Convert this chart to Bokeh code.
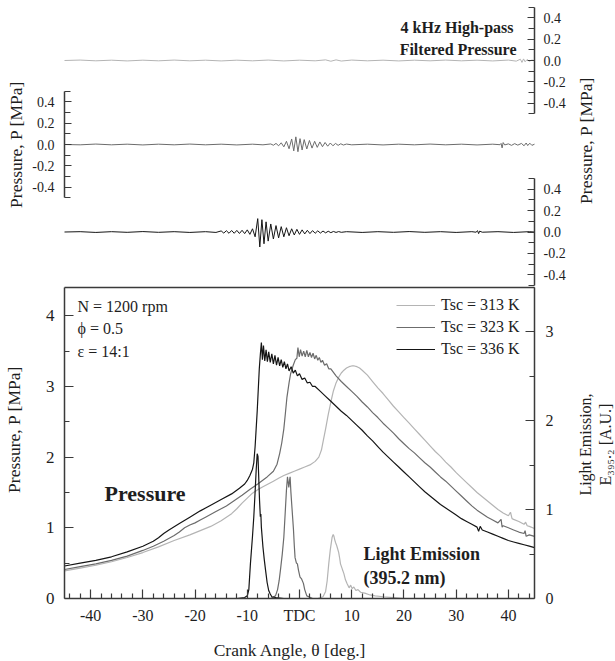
import math
from bokeh.plotting import figure
from bokeh.models import Range1d, LinearAxis, FixedTicker, PrintfTickFormatter, Label
from bokeh.embed import file_html
from bokeh.resources import INLINE

# ---------------- data ----------------
temps = ["313 K", "323 K", "336 K"]

# in-cylinder pressure [MPa] vs crank angle [deg]
pres_313 = [(-45, 0.39), (-42, 0.43), (-39, 0.47), (-36, 0.52), (-33, 0.58), (-30, 0.65), (-27, 0.73),
            (-24, 0.82), (-21, 0.90), (-19, 0.96), (-17, 1.02), (-15, 1.10), (-13, 1.20), (-12, 1.27),
            (-11, 1.35), (-10, 1.42), (-9, 1.49), (-8, 1.54), (-7, 1.58), (-6, 1.62), (-5, 1.66),
            (-4, 1.70), (-3, 1.74), (-2, 1.77), (-1, 1.80), (0, 1.83), (1, 1.86), (2, 1.89), (3, 1.94),
            (3.7, 2.00), (4.2, 2.10), (4.6, 2.25), (5.0, 2.40), (5.5, 2.60), (6.0, 2.78), (6.5, 2.94),
            (7.0, 3.05), (7.5, 3.13), (8.0, 3.19), (8.5, 3.23), (9.0, 3.26), (9.5, 3.28), (10.0, 3.29),
            (10.5, 3.29), (11, 3.28), (11.5, 3.26), (12, 3.23), (13, 3.16), (14, 3.07), (15, 2.98),
            (16, 2.90), (17, 2.81), (18, 2.72), (19, 2.64), (20, 2.56), (21, 2.48), (22, 2.40),
            (23, 2.32), (24, 2.24), (25, 2.16), (26, 2.08), (27, 2.01), (28, 1.93), (29, 1.86),
            (30, 1.78), (31, 1.71), (32, 1.64), (33, 1.57), (34, 1.50), (35, 1.44), (36, 1.38),
            (37, 1.32), (38, 1.26), (39, 1.21), (40, 1.17), (40.4, 1.22), (40.7, 1.13), (41, 1.12),
            (42, 1.09), (43, 1.05), (43.3, 1.08), (43.6, 1.03), (44, 1.02), (45, 0.99)]

pres_323 = [(-45, 0.41), (-42, 0.45), (-39, 0.49), (-36, 0.54), (-33, 0.60), (-30, 0.68), (-28, 0.74),
            (-26, 0.81), (-24, 0.89), (-23, 0.94), (-22, 1.00), (-21, 1.04), (-20, 1.07), (-19, 1.11),
            (-18, 1.15), (-16, 1.23), (-14, 1.31), (-12.6, 1.38), (-11, 1.46), (-9.4, 1.55), (-8, 1.62),
            (-6.2, 1.72), (-5, 1.80), (-4.3, 1.90), (-3.8, 2.05), (-3.4, 2.20), (-3.0, 2.40),
            (-2.7, 2.62), (-2.4, 2.85), (-2.0, 3.05), (-1.7, 3.18), (-1.2, 3.30), (-0.8, 3.38),
            (-0.5, 3.40), (-0.3, 3.55), (-0.05, 3.42), (0.2, 3.52), (0.5, 3.43), (0.8, 3.50),
            (1.1, 3.42), (1.4, 3.51), (1.7, 3.42), (2.0, 3.48), (2.3, 3.41), (2.6, 3.47), (2.9, 3.39),
            (3.2, 3.44), (3.5, 3.37), (3.8, 3.41), (4.1, 3.34), (4.4, 3.37), (4.8, 3.30), (5.2, 3.32),
            (5.6, 3.25), (6.0, 3.25), (6.5, 3.20), (7.0, 3.15), (8, 3.07), (9, 3.00), (10, 2.93),
            (11, 2.86), (12, 2.78), (13, 2.71), (14, 2.63), (15, 2.56), (16, 2.48), (17, 2.41),
            (18, 2.34), (19, 2.26), (20, 2.19), (21, 2.12), (22, 2.06), (23, 1.99), (24, 1.92),
            (25, 1.86), (26, 1.79), (27, 1.72), (28, 1.66), (29, 1.59), (30, 1.52), (31, 1.45),
            (32, 1.38), (33, 1.31), (34, 1.25), (35, 1.20), (36, 1.15), (37, 1.11), (38, 1.07),
            (38.6, 1.12), (38.8, 1.01), (39, 1.03), (40, 1.00), (41, 0.97), (42, 0.94), (43, 0.92),
            (43.2, 0.96), (43.4, 0.88), (44, 0.90), (45, 0.88)]

pres_336 = [(-45, 0.46), (-42, 0.50), (-39, 0.54), (-36, 0.59), (-33, 0.66), (-30, 0.74), (-28, 0.81),
            (-27, 0.86), (-26, 0.92), (-25, 0.97), (-23, 1.06), (-21, 1.15), (-19, 1.24), (-17, 1.32),
            (-15, 1.40), (-13, 1.48), (-11.5, 1.56), (-10.5, 1.62), (-10, 1.67), (-9.5, 1.74),
            (-9, 1.83), (-8.75, 1.92), (-8.5, 2.15), (-8.3, 2.40), (-8.1, 2.65), (-7.9, 2.95),
            (-7.7, 3.25), (-7.5, 3.45), (-7.3, 3.62), (-7.1, 3.38), (-6.9, 3.58), (-6.65, 3.36),
            (-6.4, 3.52), (-6.15, 3.35), (-5.9, 3.49), (-5.6, 3.34), (-5.3, 3.46), (-5.0, 3.32),
            (-4.7, 3.44), (-4.4, 3.30), (-4.1, 3.41), (-3.8, 3.29), (-3.5, 3.38), (-3.2, 3.27),
            (-2.9, 3.35), (-2.6, 3.25), (-2.3, 3.32), (-2.0, 3.22), (-1.6, 3.28), (-1.2, 3.19),
            (-0.8, 3.23), (-0.4, 3.15), (0.0, 3.18), (0.5, 3.10), (1.0, 3.12), (1.5, 3.05),
            (2.0, 3.06), (2.5, 3.00), (3.0, 3.00), (4, 2.93), (5, 2.86), (6, 2.79), (7, 2.72),
            (8, 2.65), (9, 2.59), (10, 2.52), (11, 2.45), (12, 2.38), (13, 2.30), (14, 2.23),
            (15, 2.15), (16, 2.07), (17, 2.00), (18, 1.93), (19, 1.86), (20, 1.79), (21, 1.72),
            (22, 1.65), (23, 1.58), (24, 1.51), (25, 1.45), (26, 1.39), (27, 1.33), (28, 1.28),
            (29, 1.23), (30, 1.18), (31, 1.13), (32, 1.09), (33, 1.05), (34, 1.01), (34.3, 0.95),
            (34.6, 1.02), (35, 0.97), (36, 0.94), (37, 0.91), (38, 0.88), (39, 0.85), (40, 0.82),
            (41, 0.80), (42, 0.78), (43, 0.76), (44, 0.74), (45, 0.72)]

# light emission at 395.2 nm [A.U.]
emis_313 = [(3.5, 0.0), (4.5, 0.02), (5.0, 0.08), (5.3, 0.20), (5.6, 0.39), (5.9, 0.55), (6.25, 0.69),
            (6.45, 0.72), (6.6, 0.70), (6.75, 0.66), (6.9, 0.63), (7.1, 0.60), (7.3, 0.56), (7.5, 0.52),
            (7.7, 0.45), (7.85, 0.39), (8.2, 0.33), (8.5, 0.28), (8.8, 0.21), (9.1, 0.17), (9.5, 0.12),
            (9.8, 0.15), (10.1, 0.11), (10.4, 0.13), (10.8, 0.09), (11.2, 0.10), (11.7, 0.07),
            (12.5, 0.06), (13.5, 0.04), (14.5, 0.03), (16, 0.02), (18, 0.01), (20, 0.0)]

emis_323 = [(-5.5, 0.0), (-4.6, 0.03), (-4.2, 0.10), (-3.9, 0.20), (-3.65, 0.32), (-3.3, 0.50),
            (-3.0, 0.69), (-2.75, 0.95), (-2.5, 1.22), (-2.3, 1.37), (-2.15, 1.30), (-2.05, 1.25),
            (-1.9, 1.33), (-1.8, 1.37), (-1.65, 1.20), (-1.5, 1.07), (-1.3, 0.90), (-1.15, 0.77),
            (-1.0, 0.60), (-0.85, 0.46), (-0.6, 0.40), (-0.4, 0.39), (-0.2, 0.32), (0.1, 0.24),
            (0.4, 0.22), (0.75, 0.17), (1.0, 0.10), (1.4, 0.03), (2.5, 0.0)]

emis_336 = [(-12, 0.0), (-10.5, 0.01), (-10.0, 0.03), (-9.7, 0.10), (-9.4, 0.39), (-9.0, 0.70),
            (-8.75, 0.92), (-8.5, 1.20), (-8.3, 1.44), (-8.1, 1.63), (-7.95, 1.60), (-7.8, 1.35),
            (-7.65, 1.10), (-7.5, 0.92), (-7.4, 0.95), (-7.3, 0.80), (-7.0, 0.58), (-6.75, 0.44),
            (-6.5, 0.32), (-6.2, 0.18), (-5.9, 0.09), (-5.6, 0.05), (-5.3, 0.02), (-4.5, 0.01), (-3, 0.0)]

# 4 kHz high-pass filtered pressure [MPa]
hp_313 = [(-45, 0.0), (-42, 0.004), (-39, -0.003), (-36, 0.003), (-33, -0.004), (-30, 0.003), (-27, -0.003),
          (-24, 0.004), (-21, -0.003), (-18, 0.003), (-15, -0.004), (-12, 0.003), (-9, -0.003), (-6, 0.004),
          (-3, -0.004), (0, 0.003), (3, -0.003), (5, 0.006), (6, -0.007), (7, 0.006), (8, -0.005),
          (10, 0.004), (13, -0.003), (16, 0.003), (19, -0.004), (22, 0.003), (25, -0.003), (28, 0.004),
          (31, -0.003), (34, 0.003), (37, -0.004), (40, 0.004), (41.5, -0.006), (42.3, 0.012),
          (42.6, -0.018), (42.9, 0.015), (43.2, -0.012), (43.6, 0.010), (44.0, -0.008), (44.5, 0.004),
          (45, 0.0)]

hp_323 = [(-45, 0.0), (-42, -0.003), (-39, 0.004), (-36, -0.003), (-33, 0.003), (-30, -0.004), (-27, 0.003),
          (-24, -0.003), (-21, 0.004), (-18, -0.003), (-15, 0.003), (-12, -0.004), (-9, 0.003), (-7, -0.003),
          (-5.5, 0.005), (-5.0, -0.007), (-4.5, 0.010), (-4.0, -0.012), (-3.5, 0.016), (-3.0, -0.022),
          (-2.5, 0.030), (-2.0, -0.040), (-1.5, 0.052), (-1.1, -0.060), (-0.7, 0.072), (-0.3, -0.068),
          (0.1, 0.055), (0.5, -0.052), (0.9, 0.046), (1.4, -0.042), (1.9, 0.038), (2.4, -0.034),
          (2.9, 0.030), (3.4, -0.027), (3.9, 0.024), (4.4, -0.021), (4.9, 0.019), (5.4, -0.016),
          (5.9, 0.014), (6.4, -0.012), (6.9, 0.010), (7.4, -0.008), (7.9, 0.007), (8.4, -0.005),
          (9.0, 0.004), (10, -0.003), (13, 0.003), (16, -0.004), (19, 0.003), (22, -0.003), (25, 0.004),
          (28, -0.003), (31, 0.003), (34, -0.004), (37, 0.003), (38.4, -0.002), (38.6, 0.010),
          (38.8, -0.032), (39.0, 0.018), (39.3, -0.004), (40, 0.006), (40.6, -0.008), (41.2, 0.008),
          (41.8, -0.006), (42.5, 0.010), (43.0, -0.012), (43.4, 0.014), (43.7, -0.010), (44.1, 0.012),
          (44.5, -0.008), (45, 0.003)]

hp_336 = [(-45, 0.0), (-42, 0.003), (-39, -0.004), (-36, 0.003), (-33, -0.003), (-30, 0.004), (-27, -0.003),
          (-24, 0.003), (-21, -0.004), (-18, 0.003), (-16, -0.004), (-15.0, 0.010), (-14.5, -0.010),
          (-14.0, 0.012), (-13.5, -0.012), (-13.0, 0.014), (-12.5, -0.012), (-12.0, 0.015), (-11.5, -0.014),
          (-11.0, 0.016), (-10.5, -0.015), (-10.0, 0.020), (-9.5, -0.022), (-9.0, 0.030), (-8.5, -0.045),
          (-8.0, 0.125), (-7.6, -0.140), (-7.2, 0.115), (-6.8, -0.110), (-6.4, 0.095), (-6.0, -0.085),
          (-5.5, 0.075), (-5.0, -0.065), (-4.5, 0.060), (-4.0, -0.055), (-3.5, 0.050), (-3.0, -0.045),
          (-2.5, 0.040), (-2.0, -0.035), (-1.5, 0.030), (-1.0, -0.028), (-0.5, 0.025), (0.0, -0.022),
          (0.5, 0.020), (1.0, -0.018), (1.5, 0.016), (2.0, -0.015), (2.5, 0.013), (3.0, -0.012),
          (3.5, 0.011), (4.0, -0.010), (4.5, 0.009), (5.0, -0.008), (5.5, 0.007), (6.0, -0.006),
          (6.5, 0.005), (7.0, -0.004), (7.5, 0.004), (8.0, -0.003), (9, 0.003), (12, -0.004), (15, 0.003),
          (18, -0.003), (21, 0.004), (24, -0.003), (27, 0.003), (30, -0.004), (33, 0.003), (33.8, -0.002),
          (34.1, 0.012), (34.3, -0.015), (34.5, 0.008), (35, -0.002), (38, 0.003), (41, -0.004),
          (44, 0.003), (45, 0.0)]

pressure = {"313 K": pres_313, "323 K": pres_323, "336 K": pres_336}
emission = {"313 K": emis_313, "323 K": emis_323, "336 K": emis_336}
highpass = {"313 K": hp_313, "323 K": hp_323, "336 K": hp_336}

x_ticks = [-40, -30, -20, -10, 0, 10, 20, 30, 40]
x_tick_labels = ["-40", "-30", "-20", "-10", "TDC", "10", "20", "30", "40"]
x_minor = [-44, -42, -38, -36, -34, -32, -28, -26, -24, -22, -18, -16, -14, -12, -8, -6, -4, -2,
           2, 4, 6, 8, 12, 14, 16, 18, 22, 24, 26, 28, 32, 34, 36, 38, 42, 44]
p_ticks = [0, 1, 2, 3, 4]
p_minor = [0.5, 1.5, 2.5, 3.5]
e_ticks = [0, 1, 2, 3]
e_minor = [0.5, 1.5, 2.5, 3.5]
hp_ticks = [-0.4, -0.2, 0.0, 0.2, 0.4]
hp_minor = [-0.5, -0.3, -0.1, 0.1, 0.3, 0.5]

# ---------------- layout / style ----------------
FONT = "Liberation Serif"
AX = "#3a3a3a"
TXT = "#1e1e1e"
COL = {"313 K": "#b4b4b4", "323 K": "#6c6c6c", "336 K": "#151515"}

W, H = 615, 661
FL, FR, FB, FTOP = 64, 534, 598, 287          # main panel box (pixels)
X0, X1 = -45, 45
P_TOP, E_TOP = 4.4, 3.5
ppd = (FR - FL) / (X1 - X0)
p_ppu = (FB - FTOP) / P_TOP
e_ppu = (FB - FTOP) / E_TOP


def zrange(zero_px, ppu):
    # canvas-wide range whose value 0 sits at pixel row zero_px
    start = -(H - zero_px) / ppu
    return Range1d(start, start + H / ppu)


def tx(xpx):
    return X0 + (xpx - FL) / ppd


def ty(ypx):
    return (FB - ypx) / p_ppu


# the plotting frame covers the whole canvas, every axis is pinned with fixed_location
p = figure(width=W, height=H, x_range=Range1d(tx(0), tx(W)), y_range=zrange(FB, p_ppu),
           output_backend="svg", toolbar_location=None, x_axis_location=None, y_axis_location=None,
           min_border=0, min_border_left=0, min_border_right=0, min_border_top=0, min_border_bottom=0)
p.extra_y_ranges = {"light": zrange(FB, e_ppu),
                    "hp313": zrange(60, 106.3),
                    "hp323": zrange(144, 106.3),
                    "hp336": zrange(231.5, 107)}
p.outline_line_color = None
p.background_fill_color = "white"
p.border_fill_color = "white"
p.grid.visible = False
p.xgrid.grid_line_color = None
p.ygrid.grid_line_color = None


def axis(side, loc, bounds, ticks, minor, size, tin, tmin, standoff, rng=None, overrides=None, fmt=None):
    kw = {}
    if rng is not None:
        kw["y_range_name"] = rng
    ax = LinearAxis(fixed_location=loc, bounds=bounds,
                    ticker=FixedTicker(ticks=ticks, minor_ticks=minor), **kw)
    if fmt:
        ax.formatter = PrintfTickFormatter(format=fmt)
    if overrides:
        ax.major_label_overrides = overrides
    ax.axis_line_color = AX
    ax.axis_line_width = 1.5
    ax.major_tick_line_color = AX
    ax.minor_tick_line_color = AX
    ax.major_tick_line_width = 1.2
    ax.minor_tick_line_width = 1.2
    ax.major_tick_in = tin
    ax.major_tick_out = 0
    ax.minor_tick_in = tmin
    ax.minor_tick_out = 0
    ax.major_label_text_font = FONT
    ax.major_label_text_font_size = size
    ax.major_label_text_color = TXT
    ax.major_label_standoff = standoff
    p.add_layout(ax, side)
    return ax


# main panel box
axis("below", 0, (X0, X1), x_ticks, x_minor, "16px", 9, 5, 8,
     overrides=dict(zip(x_ticks, x_tick_labels)))
axis("left", X0, (0, P_TOP), p_ticks, p_minor, "17px", 9, 5, 10, fmt="%d")
axis("right", X1, (0, E_TOP), e_ticks, e_minor, "16px", 9, 5, 11, rng="light", fmt="%d")
axis("above", P_TOP, (X0, X1), [], [], "16px", 0, 0, 0)
# high-pass panels
axis("right", X1, (-0.5, 0.5), hp_ticks, hp_minor, "14px", 7, 6, 9, rng="hp313", fmt="%.1f")
axis("left", X0, (-0.5, 0.5), hp_ticks, hp_minor, "14px", 7, 6, 10, rng="hp323", fmt="%.1f")
axis("right", X1, (-0.5, 0.5), hp_ticks, hp_minor, "14px", 7, 6, 9, rng="hp336", fmt="%.1f")

# ---------------- curves ----------------
for t in temps:
    xs = [a for a, _ in pressure[t]]
    ys = [b for _, b in pressure[t]]
    p.line(xs, ys, line_color=COL[t], line_width=1.2, legend_label=f"Tsc = {t}")
for t in temps:
    xs = [a for a, _ in emission[t]]
    ys = [b for _, b in emission[t]]
    p.line(xs, ys, line_color=COL[t], line_width=1.2, y_range_name="light")
for t in temps:
    xs = [a for a, _ in highpass[t]]
    ys = [b for _, b in highpass[t]]
    p.line(xs, ys, line_color=COL[t], line_width=1.0, y_range_name="hp" + t.split()[0])

lg = p.legend[0]
lg.location = (396, H - 359)
lg.border_line_color = None
lg.background_fill_alpha = 0
lg.label_text_font = FONT
lg.label_text_font_size = "16px"
lg.label_text_color = TXT
lg.glyph_width = 39
lg.label_standoff = 6
lg.padding = 2
lg.spacing = 2
lg.margin = 0


# ---------------- texts ----------------
def add_text(x, y, text, size="16px", bold=False, align="left", angle=0.0):
    p.add_layout(Label(x=x, y=y, text=text, text_font=FONT, text_font_size=size,
                       text_font_style="bold" if bold else "normal", text_color=TXT,
                       text_baseline="middle", text_align=align, angle=angle))


V = math.pi / 2
# axis titles
add_text(tx(289.5), ty(649), "Crank Angle, θ [deg.]", "17.5px", align="center")
add_text(tx(13), ty(429), "Pressure, P [MPa]", "17.5px", align="center", angle=V)
add_text(tx(15), ty(144), "Pressure, P [MPa]", "17.5px", align="center", angle=V)
add_text(tx(585), ty(140), "Pressure, P [MPa]", "17.5px", align="center", angle=V)
add_text(tx(595), ty(444), "Light Emission,\nE₃₉₅.₂ [A.U.]", "16px", align="center", angle=V)
# in-plot annotations
add_text(tx(77), ty(306), "N = 1200 rpm")
add_text(tx(77), ty(328), "ϕ = 0.5")
add_text(tx(77), ty(351), "ε = 14:1")
add_text(tx(104), ty(493), "Pressure", "22px", True)
add_text(tx(363), ty(553), "Light Emission", "18px", True)
add_text(tx(363), ty(577), "(395.2 nm)", "18px", True)
add_text(tx(513), ty(27), "4 kHz High-pass", "16px", True, "right")
add_text(tx(516), ty(49), "Filtered Pressure", "16px", True, "right")

open("out.html", "w").write(file_html(p, INLINE))
